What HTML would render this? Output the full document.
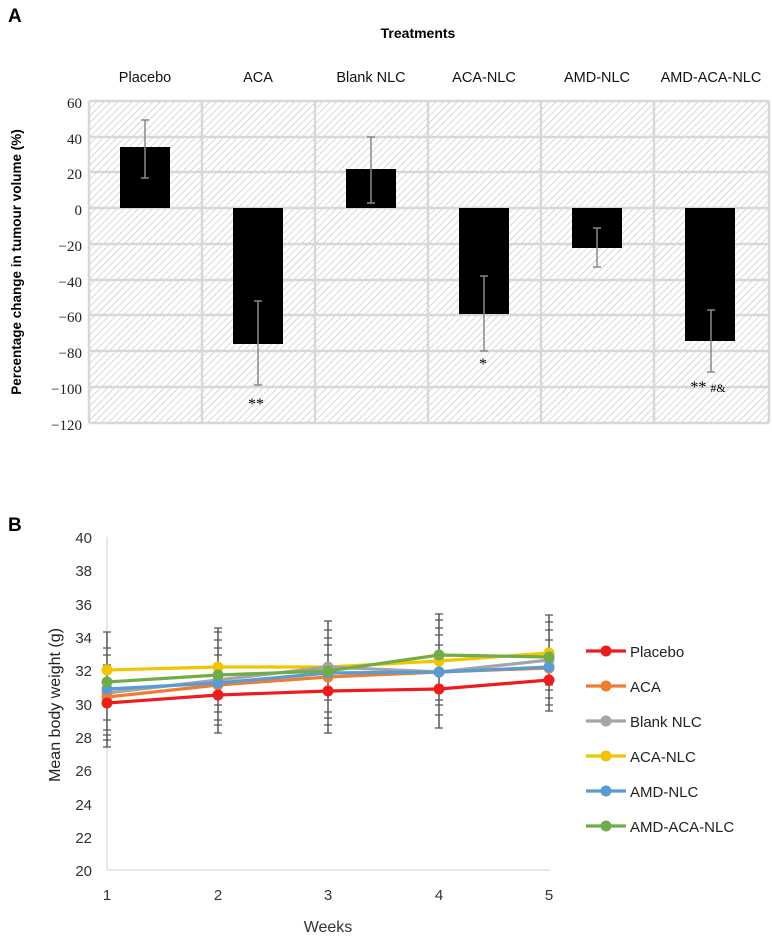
<!DOCTYPE html>
<html><head><meta charset="utf-8"><style>
body{margin:0;background:#fff}
svg{display:block}
</style></head><body>
<svg width="772" height="942" viewBox="0 0 772 942" xmlns="http://www.w3.org/2000/svg" font-family="Liberation Sans, sans-serif">
<defs>
<pattern id="h" width="5" height="5" patternUnits="userSpaceOnUse" patternTransform="rotate(45)">
<rect width="5" height="5" fill="#fff"/>
<line x1="0" y1="0" x2="0" y2="5" stroke="#c8c8c8" stroke-width="1.4"/>
</pattern>
</defs>
<text x="8" y="22" font-size="19" font-weight="bold">A</text>
<text x="418" y="38" font-size="14" font-weight="bold" text-anchor="middle">Treatments</text>
<g font-size="14.5" text-anchor="middle" fill="#111">
<text x="145" y="82">Placebo</text><text x="258" y="82">ACA</text><text x="371" y="82">Blank NLC</text>
<text x="484" y="82">ACA-NLC</text><text x="597" y="82">AMD-NLC</text><text x="711" y="82">AMD-ACA-NLC</text>
</g>
<rect x="89" y="101" width="680" height="322" fill="url(#h)"/>
<g stroke="#d8d8d8" stroke-width="2.5">
<line x1="89" y1="101" x2="769" y2="101"/><line x1="89" y1="137" x2="769" y2="137"/><line x1="89" y1="172" x2="769" y2="172"/><line x1="89" y1="208" x2="769" y2="208"/><line x1="89" y1="244" x2="769" y2="244"/><line x1="89" y1="280" x2="769" y2="280"/><line x1="89" y1="315" x2="769" y2="315"/><line x1="89" y1="351" x2="769" y2="351"/><line x1="89" y1="387" x2="769" y2="387"/><line x1="89" y1="423" x2="769" y2="423"/>
<line x1="89" y1="101" x2="89" y2="423"/><line x1="202" y1="101" x2="202" y2="423"/><line x1="315" y1="101" x2="315" y2="423"/><line x1="428" y1="101" x2="428" y2="423"/><line x1="541" y1="101" x2="541" y2="423"/><line x1="654" y1="101" x2="654" y2="423"/><line x1="769" y1="101" x2="769" y2="423"/>
</g>
<g font-family="Liberation Serif, serif" font-size="15" text-anchor="end" fill="#222">
<text x="82" y="108">60</text><text x="82" y="144">40</text><text x="82" y="179">20</text><text x="82" y="215">0</text><text x="82" y="251">−20</text><text x="82" y="287">−40</text><text x="82" y="322">−60</text><text x="82" y="358">−80</text><text x="82" y="394">−100</text><text x="82" y="430">−120</text>
</g>
<text transform="translate(21,262) rotate(-90)" font-size="13.5" font-weight="bold" text-anchor="middle">Percentage change in tumour volume (%)</text>
<g fill="#000">
<rect x="120" y="147" width="50" height="61"/><rect x="233" y="208" width="50" height="136"/><rect x="346" y="169" width="50" height="39"/>
<rect x="459" y="208" width="50" height="106"/><rect x="572" y="208" width="50" height="40"/><rect x="685" y="208" width="50" height="133"/>
</g>
<g stroke="#888" stroke-width="1.5">
<path d="M145 120V178M141 120H149M141 178H149"/>
<path d="M258 301V385M254 301H262M254 385H262"/>
<path d="M371 137V203M367 137H375M367 203H375"/>
<path d="M484 276V351M480 276H488M480 351H488"/>
<path d="M597 228V267M593 228H601M593 267H601"/>
<path d="M711 310V372M707 310H715M707 372H715"/>
</g>
<g font-family="Liberation Serif, serif" font-size="16" text-anchor="middle">
<text x="256" y="409">**</text><text x="483" y="369">*</text><text x="708" y="392">** <tspan font-size="12">#&amp;</tspan></text>
</g>

<text x="8" y="531" font-size="19" font-weight="bold">B</text>
<line x1="107" y1="537" x2="107" y2="870" stroke="#d9d9d9" stroke-width="1.2"/>
<line x1="107" y1="870" x2="550" y2="870" stroke="#d9d9d9" stroke-width="1.2"/>
<g font-size="15" text-anchor="end" fill="#333" font-family="Liberation Sans Narrow, Liberation Sans, sans-serif">
<text x="92" y="543">40</text><text x="92" y="576">38</text><text x="92" y="610">36</text><text x="92" y="643">34</text><text x="92" y="676">32</text><text x="92" y="710">30</text><text x="92" y="743">28</text><text x="92" y="776">26</text><text x="92" y="810">24</text><text x="92" y="843">22</text><text x="92" y="876">20</text>
</g>
<g font-size="15" text-anchor="middle" fill="#333" font-family="Liberation Sans Narrow, Liberation Sans, sans-serif">
<text x="107" y="900">1</text><text x="218" y="900">2</text><text x="328" y="900">3</text><text x="439" y="900">4</text><text x="549" y="900">5</text>
<text x="328" y="932" font-size="16">Weeks</text>
</g>
<text transform="translate(60,705) rotate(-90)" font-size="16" text-anchor="middle" fill="#222">Mean body weight (g)</text>
<g stroke="#555" stroke-width="1.5">
<path d="M107 632V747"/><path d="M218 628V733"/><path d="M328 621V733"/><path d="M439 614V728"/><path d="M549 615V711"/>
<g stroke-width="1.2">
<path d="M103 632H111M103 648H111M103 655H111M103 665H111M103 720H111M103 735H111M103 747H111M103 740H111M103 730H111"/>
<path d="M214 628H222M214 632H222M214 640H222M214 648H222M214 655H222M214 720H222M214 733H222M214 725H222M214 712H222M214 705H222"/>
<path d="M324 621H332M324 630H332M324 638H332M324 645H332M324 655H332M324 725H332M324 733H332M324 718H332M324 712H332M324 700H332"/>
<path d="M435 614H443M435 620H443M435 628H443M435 635H443M435 645H443M435 728H443M435 715H443M435 705H443M435 700H443M435 690H443"/>
<path d="M545 615H553M545 622H553M545 630H553M545 640H553M545 650H553M545 711H553M545 705H553M545 698H553M545 690H553M545 685H553"/>
</g>
</g>
<g fill="none" stroke-width="3.2">
<polyline stroke="#f2c500" points="107,670 218,667 328,667 439,661 549,653"/>
<polyline stroke="#a5a5a5" points="107,693 218,680 328,667 439,672 549,660"/>
<polyline stroke="#ed7d31" points="107,697 218,685 328,677 439,672 549,668"/>
<polyline stroke="#5b9bd5" points="107,689 218,683 328,673 439,672 549,667"/>
<polyline stroke="#70ad47" points="107,682 218,675 328,671 439,655 549,657"/>
<polyline stroke="#ee1c1c" points="107,703 218,695 328,691 439,689 549,680"/>
</g>
<g>
<g fill="#f2c500"><circle cx="107" cy="670" r="5.5"/><circle cx="218" cy="667" r="5.5"/><circle cx="328" cy="667" r="5.5"/><circle cx="439" cy="661" r="5.5"/><circle cx="549" cy="653" r="5.5"/></g>
<g fill="#a5a5a5"><circle cx="107" cy="693" r="5.5"/><circle cx="218" cy="680" r="5.5"/><circle cx="328" cy="667" r="5.5"/><circle cx="439" cy="672" r="5.5"/><circle cx="549" cy="660" r="5.5"/></g>
<g fill="#ed7d31"><circle cx="107" cy="697" r="5.5"/><circle cx="218" cy="685" r="5.5"/><circle cx="328" cy="677" r="5.5"/><circle cx="439" cy="672" r="5.5"/><circle cx="549" cy="668" r="5.5"/></g>
<g fill="#5b9bd5"><circle cx="107" cy="689" r="5.5"/><circle cx="218" cy="683" r="5.5"/><circle cx="328" cy="673" r="5.5"/><circle cx="439" cy="672" r="5.5"/><circle cx="549" cy="667" r="5.5"/></g>
<g fill="#70ad47"><circle cx="107" cy="682" r="5.5"/><circle cx="218" cy="675" r="5.5"/><circle cx="328" cy="671" r="5.5"/><circle cx="439" cy="655" r="5.5"/><circle cx="549" cy="657" r="5.5"/></g>
<g fill="#ee1c1c"><circle cx="107" cy="703" r="5.5"/><circle cx="218" cy="695" r="5.5"/><circle cx="328" cy="691" r="5.5"/><circle cx="439" cy="689" r="5.5"/><circle cx="549" cy="680" r="5.5"/></g>
</g>
<g stroke-width="3.2">
<line x1="586" y1="651" x2="626" y2="651" stroke="#ee1c1c"/><circle cx="606" cy="651" r="5.5" fill="#ee1c1c"/>
<line x1="586" y1="686" x2="626" y2="686" stroke="#ed7d31"/><circle cx="606" cy="686" r="5.5" fill="#ed7d31"/>
<line x1="586" y1="721" x2="626" y2="721" stroke="#a5a5a5"/><circle cx="606" cy="721" r="5.5" fill="#a5a5a5"/>
<line x1="586" y1="756" x2="626" y2="756" stroke="#f2c500"/><circle cx="606" cy="756" r="5.5" fill="#f2c500"/>
<line x1="586" y1="791" x2="626" y2="791" stroke="#5b9bd5"/><circle cx="606" cy="791" r="5.5" fill="#5b9bd5"/>
<line x1="586" y1="826" x2="626" y2="826" stroke="#70ad47"/><circle cx="606" cy="826" r="5.5" fill="#70ad47"/>
</g>
<g font-size="15" fill="#222" font-family="Liberation Sans Narrow, Liberation Sans, sans-serif">
<text x="630" y="657">Placebo</text><text x="630" y="692">ACA</text><text x="630" y="727">Blank NLC</text><text x="630" y="762">ACA-NLC</text><text x="630" y="797">AMD-NLC</text><text x="630" y="832">AMD-ACA-NLC</text>
</g>
</svg>
</body></html>
